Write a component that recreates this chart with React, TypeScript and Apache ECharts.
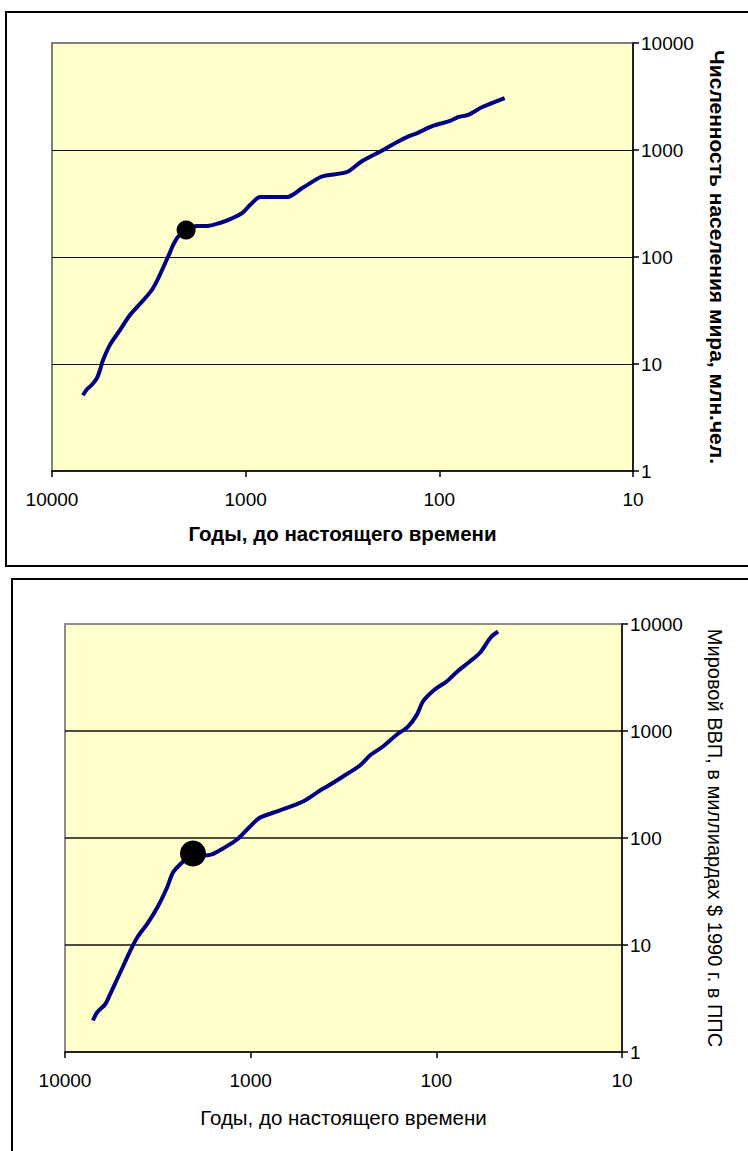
import React, { useEffect, useRef } from "react";
import * as echarts from "echarts";

// Years before present (log scale, read right-to-left) and world population, mln
const popYears = [6920, 6600, 6220, 5860, 5650, 5450, 5020, 4560, 3960, 3640, 3010, 2520, 2370, 2240, 2030, 1780, 1580, 1360, 1200, 1040, 950, 840, 710, 610, 510, 410, 370, 300, 250, 195, 165, 147, 130, 108, 88, 80, 71, 60, 46];
const popValues = [5.1, 5.8, 6.4, 7.4, 8.8, 10.9, 15.1, 19.5, 28.7, 34, 51, 100, 129, 154, 179, 195, 195, 208, 226, 258, 306, 364, 364, 364, 441, 559, 584, 623, 789, 1000, 1190, 1320, 1440, 1680, 1870, 2030, 2130, 2520, 3060];
const popMarker = [2030, 179];

// Years before present and world GDP, bln 1990 PPP dollars
const gdpYears = [7070, 6720, 6090, 5720, 5250, 4870, 4360, 4050, 3570, 3160, 2820, 2620, 2340, 2045, 1830, 1620, 1410, 1185, 1008, 891, 695, 523, 423, 388, 318, 258, 228, 194, 163, 142, 127, 118, 102, 88, 77, 66, 58, 51, 46.5];
const gdpValues = [1.97, 2.34, 2.78, 3.45, 4.76, 6.3, 9.5, 12, 16.2, 22.9, 34.5, 47.6, 59, 71.7, 68.6, 70.2, 79.8, 96.8, 128, 155, 181, 219, 278, 303, 376, 476, 590, 716, 927, 1100, 1430, 1890, 2440, 2900, 3600, 4460, 5420, 7480, 8510];
const gdpMarker = [2045, 71.7];

// Axis tick values
const yearTicks = [10, 100, 1000, 10000];
const valueTicks = [1, 10, 100, 1000, 10000];

const xTitle = "Годы, до настоящего времени";
const popTitle = "Численность населения мира, млн.чел.";
const gdpTitle = "Мировой ВВП, в миллиардах $ 1990 г. в ППС";

const FONT = "'Liberation Sans', Arial, sans-serif";

const pairs = (xs: number[], ys: number[]) => xs.map((x, i) => [x, ys[i]]);

export default function App() {
  const ref = useRef<HTMLDivElement>(null);

  useEffect(() => {
    if (!ref.current) return;
    const chart = echarts.init(ref.current, undefined, { renderer: "svg" });

    const makeX = (gridIndex: number, bold: boolean, gap: number, titleSize: number) => ({
      type: "log" as const,
      logBase: 10,
      gridIndex,
      min: yearTicks[0],
      max: yearTicks[yearTicks.length - 1],
      inverse: true,
      name: xTitle,
      nameLocation: "middle" as const,
      nameGap: gap,
      nameTextStyle: { fontFamily: FONT, fontSize: titleSize, fontWeight: bold ? "bold" : "normal", color: "#000" },
      axisLine: { show: true, lineStyle: { color: "#000", width: 1.5 } },
      axisTick: { show: true, length: 6, lineStyle: { color: "#000", width: 1.5 } },
      axisLabel: {
        margin: 19,
        fontFamily: FONT,
        fontSize: 19,
        color: "#000",
        formatter: (v: number) => String(Math.round(v)),
      },
      splitLine: { show: false },
    });

    const makeY = (gridIndex: number, name: string, bold: boolean, gap: number, titleSize: number, gridWidth: number) => ({
      type: "log" as const,
      logBase: 10,
      gridIndex,
      min: valueTicks[0],
      max: valueTicks[valueTicks.length - 1],
      position: "right" as const,
      name,
      nameLocation: "middle" as const,
      nameRotate: -90,
      nameGap: gap,
      nameTextStyle: { fontFamily: FONT, fontSize: titleSize, fontWeight: bold ? "bold" : "normal", color: "#000" },
      axisLine: { show: true, lineStyle: { color: "#000", width: 1.5 } },
      axisTick: { show: true, length: 6, lineStyle: { color: "#000", width: 1.5 } },
      axisLabel: {
        margin: 8,
        fontFamily: FONT,
        fontSize: 19,
        color: "#000",
        formatter: (v: number) => String(Math.round(v)),
      },
      splitLine: { show: true, showMinLine: false, showMaxLine: false, lineStyle: { color: "#111", width: gridWidth } },
    });

    const lineStyle = { color: "#000080", width: 4 };

    chart.setOption({
      animation: false,
      backgroundColor: "#fff",
      grid: [
        { left: 52, top: 43, width: 581, height: 428, show: true, backgroundColor: "#FFFFCC", borderColor: "#808080", borderWidth: 2 },
        { left: 65, top: 624, width: 557, height: 428, show: true, backgroundColor: "#FFFFCC", borderColor: "#8c8c8c", borderWidth: 2 },
      ],
      xAxis: [makeX(0, true, 52, 20.5), makeX(1, false, 55, 20.5)],
      yAxis: [makeY(0, popTitle, true, 74, 21, 1), makeY(1, gdpTitle, false, 83, 20, 1.6)],
      series: [
        {
          type: "line",
          xAxisIndex: 0,
          yAxisIndex: 0,
          data: pairs(popYears, popValues),
          smooth: 0.3,
          showSymbol: false,
          lineStyle,
          z: 2,
        },
        {
          type: "scatter",
          xAxisIndex: 0,
          yAxisIndex: 0,
          data: [popMarker],
          symbolSize: 19,
          itemStyle: { color: "#000", opacity: 1 },
          z: 3,
        },
        {
          type: "line",
          xAxisIndex: 1,
          yAxisIndex: 1,
          data: pairs(gdpYears, gdpValues),
          smooth: 0.3,
          showSymbol: false,
          lineStyle,
          z: 2,
        },
        {
          type: "scatter",
          xAxisIndex: 1,
          yAxisIndex: 1,
          data: [gdpMarker],
          symbolSize: 26,
          itemStyle: { color: "#000", opacity: 1 },
          z: 3,
        },
      ],
      graphic: [
        {
          type: "rect",
          silent: true,
          shape: { x: 6, y: 12, width: 800, height: 554 },
          style: { fill: "none", stroke: "#000", lineWidth: 2 },
        },
        {
          type: "rect",
          silent: true,
          shape: { x: 12, y: 579, width: 800, height: 640 },
          style: { fill: "none", stroke: "#000", lineWidth: 2 },
        },
      ],
    });

    return () => chart.dispose();
  }, []);

  return (
    <div
      ref={ref}
      style={{ position: "absolute", left: 0, top: 0, width: 748, height: 1151 }}
    />
  );
}
